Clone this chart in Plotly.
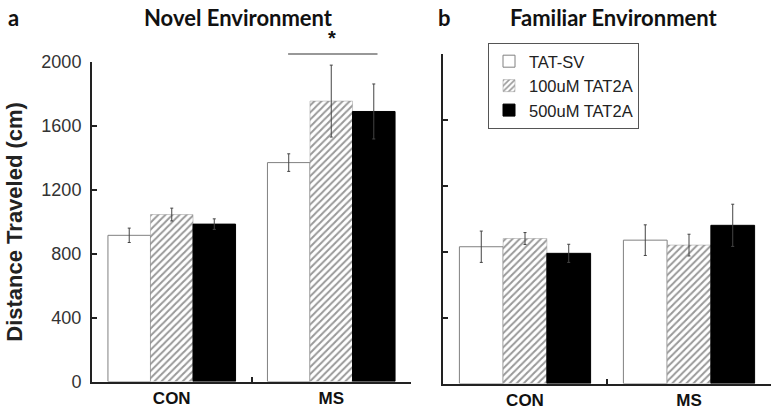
import plotly.graph_objects as go

groups = ["CON", "MS"]
treatments = ["TAT-SV", "100uM TAT2A", "500uM TAT2A"]

# Novel environment (panel a)
novel_mean = [[915, 1370], [1045, 1755], [985, 1690]]
novel_err = [[45, 55], [40, 225], [33, 172]]

# Familiar environment (panel b)
familiar_mean = [[830, 870], [880, 840], [790, 960]]
familiar_err = [[95, 93], [36, 66], [55, 128]]

y_ticks = [0, 400, 800, 1200, 1600, 2000]
y_max = 2000

# significance bracket over MS (novel): span in category units, height in data units
sig_x = [0.72, 1.29]
sig_y = 2050
star_y = 2150

W, H = 772, 410

styles = [
    dict(color="white", line=dict(color="#808080", width=1)),
    dict(color="white", line=dict(color="#999999", width=0.5),
         pattern=dict(shape="/", fgcolor="#333333", bgcolor="white", size=5, solidity=0.4)),
    dict(color="black", line=dict(color="black", width=1)),
]

fig = go.Figure()

for i, name in enumerate(treatments):
    fig.add_trace(go.Bar(
        x=groups, y=novel_mean[i], name=name,
        marker=styles[i],
        error_y=dict(type="data", array=novel_err[i], color="#444444", thickness=1, width=1.5),
        xaxis="x", yaxis="y", legendgroup=name, showlegend=True,
    ))
for i, name in enumerate(treatments):
    fig.add_trace(go.Bar(
        x=groups, y=familiar_mean[i], name=name,
        marker=styles[i],
        error_y=dict(type="data", array=familiar_err[i], color="#444444", thickness=1, width=1.5),
        xaxis="x2", yaxis="y2", legendgroup=name, showlegend=False,
    ))

def px_x(p):
    return p / W

def px_y(p):
    # the rendered page came out slightly squeezed vertically; compensate
    return (H - (p - 10) / 0.95) / H

axis_common = dict(
    showline=True, linecolor="#222222", linewidth=2,
    ticks="inside", ticklen=5, tickcolor="#222222", tickwidth=1.5,
    showgrid=False, zeroline=False,
)
cat_font = dict(size=17, family="Liberation Sans, Arial", color="#111111")

fig.update_layout(
    width=W, height=H,
    margin=dict(l=0, r=0, t=0, b=0),
    plot_bgcolor="white", paper_bgcolor="white",
    barmode="group", bargap=0.2, bargroupgap=0,
    font=dict(family="Liberation Sans, Arial", size=16, color="#222222"),
    xaxis=dict(domain=[px_x(92), px_x(411)], anchor="y", tickson="boundaries",
               tickfont=cat_font, **axis_common),
    yaxis=dict(domain=[px_y(382), px_y(62)], anchor="x", range=[0, y_max],
               tickvals=y_ticks, ticklabelstandoff=5,
               tickfont=dict(size=18, color="#333333"), **axis_common),
    xaxis2=dict(domain=[px_x(443), px_x(771)], anchor="y2", tickson="boundaries",
                tickfont=cat_font, **axis_common),
    yaxis2=dict(domain=[px_y(384), px_y(54)], anchor="x2", range=[0, y_max],
                tickvals=y_ticks, showticklabels=False, **axis_common),
    legend=dict(x=px_x(488), y=px_y(43), xanchor="left", yanchor="top",
                bordercolor="#555555", borderwidth=1, bgcolor="white",
                font=dict(size=16.5, color="#222222"), tracegroupgap=0,
                itemwidth=30),
)

# bold category labels
fig.update_xaxes(ticktext=["<b>CON</b>", "<b>MS</b>"], tickvals=groups)

title_font = dict(family="Lato, Open Sans", size=22, color="#111111")
for txt, cx in [("<b>Novel Environment</b>", 238), ("<b>Familiar Environment</b>", 614),
                ("<b>a</b>", 14), ("<b>b</b>", 444)]:
    fig.add_annotation(text=txt, x=px_x(cx), y=px_y(18), xref="paper", yref="paper",
                       xanchor="center", yanchor="middle", showarrow=False, font=title_font)
fig.add_annotation(text="<b>Distance Traveled (cm)</b>", x=px_x(15), y=px_y(222),
                   xref="paper", yref="paper", xanchor="center", yanchor="middle",
                   showarrow=False, textangle=-90,
                   font=dict(family="Liberation Sans, Arial", size=22, color="#222222"))

# significance bar over MS in the novel environment (above the y range, so use domain refs)
fig.add_annotation(x=sig_x[1], y=sig_y / y_max, xref="x", yref="y domain",
                   ax=sig_x[0], ay=0, axref="x", ayref="pixel", text="",
                   showarrow=True, arrowhead=0, arrowwidth=1.5, arrowcolor="#777777",
                   standoff=0, startstandoff=0)
fig.add_annotation(x=sum(sig_x) / 2, y=star_y / y_max, xref="x", yref="y domain",
                   text="<b>*</b>", showarrow=False, yanchor="middle",
                   font=dict(size=20, color="#111111"))

fig.write_html("out.html", config={"displayModeBar": False},
               post_script="document.body.style.margin='0';")
